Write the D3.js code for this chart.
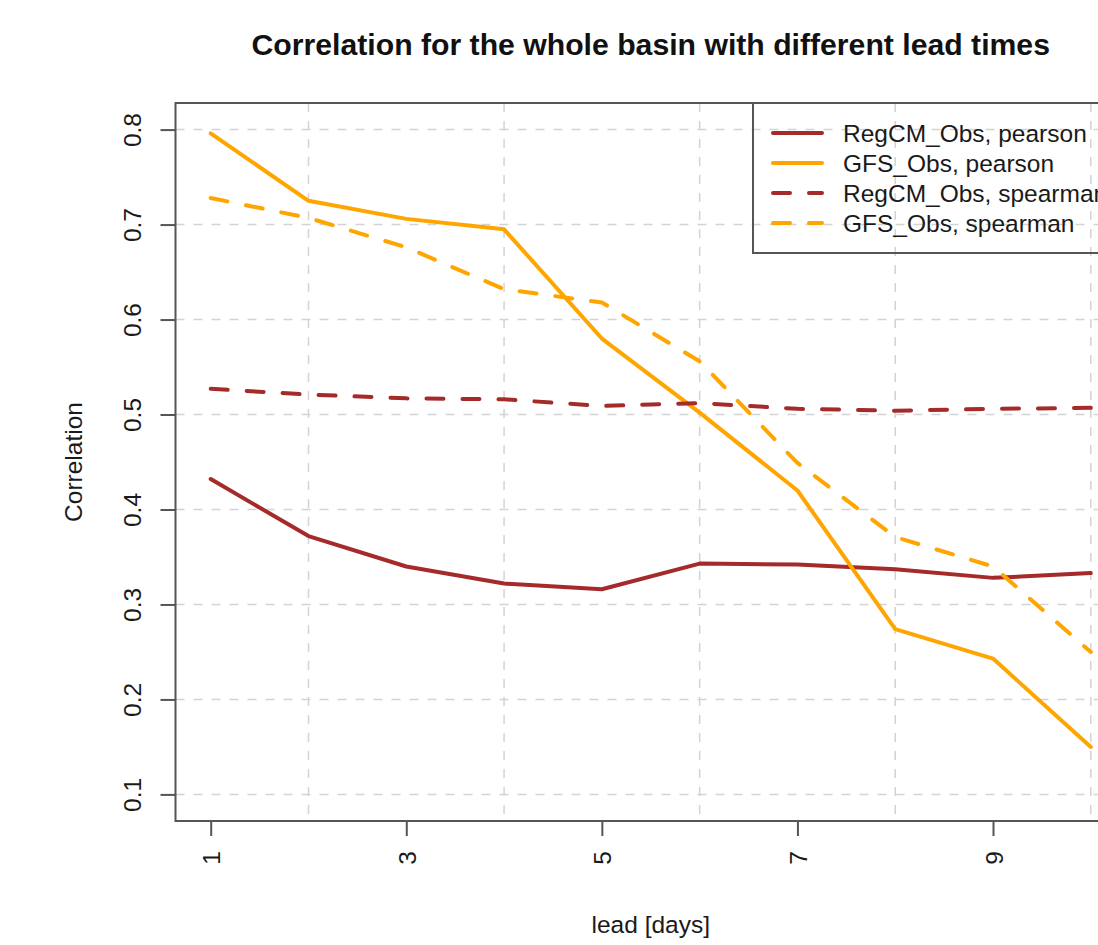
<!DOCTYPE html>
<html>
<head>
<meta charset="utf-8">
<script src="https://d3js.org/d3.v7.min.js"></script>
<style>
  body { margin: 0; background: #fff; }
  svg { display: block; overflow: hidden; font-family: "Liberation Sans", Arial, sans-serif; }
  .tick text { font-size: 24.5px; fill: #1a1a1a; }
  .tick line { stroke: #555; stroke-width: 2px; }
  .grid line { stroke: #d3d3d3; stroke-width: 1.5px; stroke-dasharray: 9,9; }
</style>
</head>
<body>
<svg id="chart" width="1098" height="945"></svg>
<script>
// lead time in days
const days = [1, 2, 3, 4, 5, 6, 7, 8, 9, 10];
const regcmPearson  = [0.432, 0.372, 0.340, 0.322, 0.316, 0.343, 0.342, 0.337, 0.328, 0.333];
const gfsPearson    = [0.796, 0.725, 0.706, 0.695, 0.580, 0.502, 0.420, 0.274, 0.243, 0.150];
const regcmSpearman = [0.527, 0.521, 0.517, 0.516, 0.509, 0.512, 0.506, 0.504, 0.506, 0.507];
const gfsSpearman   = [0.728, 0.707, 0.676, 0.632, 0.618, 0.556, 0.449, 0.371, 0.340, 0.250];

const xTicks = [1, 3, 5, 7, 9];
const xGrid = [2, 4, 6, 8, 10];
const yTicks = [0.1, 0.2, 0.3, 0.4, 0.5, 0.6, 0.7, 0.8];

const seriesNames = ["RegCM_Obs, pearson", "GFS_Obs, pearson", "RegCM_Obs, spearman", "GFS_Obs, spearman"];
const seriesValues = [regcmPearson, gfsPearson, regcmSpearman, gfsSpearman];
const seriesColors = ["#a52a2a", "#ffa500", "#a52a2a", "#ffa500"];
const seriesDashed = [false, false, true, true];

const plotLeft = 175.5, plotRight = 1126, plotTop = 103, plotBottom = 821;

const x = d3.scaleLinear().domain([0.64, 10.36]).range([plotLeft, plotRight]);
const y = d3.scaleLinear().domain([0.072, 0.828]).range([plotBottom, plotTop]);

const svg = d3.select("#chart");

// grid
const grid = svg.append("g").attr("class", "grid");
grid.selectAll(".gv").data(xGrid).enter().append("line")
    .attr("x1", d => x(d)).attr("x2", d => x(d))
    .attr("y1", plotTop).attr("y2", plotBottom);
grid.selectAll(".gh").data(yTicks).enter().append("line")
    .attr("x1", plotLeft).attr("x2", plotRight)
    .attr("y1", d => y(d)).attr("y2", d => y(d));

// lines
const line = d3.line()
    .x((d, i) => x(days[i]))
    .y(d => y(d));

seriesValues.forEach(function(vals, k) {
    svg.append("path")
        .datum(vals)
        .attr("d", line)
        .attr("fill", "none")
        .attr("stroke", seriesColors[k])
        .attr("stroke-width", 4)
        .attr("stroke-linejoin", "round")
        .attr("stroke-linecap", "round")
        .attr("stroke-dasharray", seriesDashed[k] ? "17,19" : null);
});

// axes
const xAxis = d3.axisBottom(x).tickValues(xTicks).tickSize(15).tickFormat(d3.format("d"));
const yAxis = d3.axisLeft(y).tickValues(yTicks).tickSize(15).tickFormat(d3.format(".1f"));

const gx = svg.append("g").attr("transform", `translate(0,${plotBottom})`).call(xAxis);
gx.select(".domain").remove();
gx.selectAll(".tick text")
    .attr("transform", "rotate(-90)")
    .attr("x", -30).attr("y", 9).attr("dy", null)
    .attr("text-anchor", "end");

const gy = svg.append("g").attr("transform", `translate(${plotLeft},0)`).call(yAxis);
gy.select(".domain").remove();
gy.selectAll(".tick text")
    .attr("transform", "rotate(-90)")
    .attr("x", 0).attr("y", -34.5).attr("dy", null)
    .attr("text-anchor", "middle");

// plot box
svg.append("rect")
    .attr("x", plotLeft).attr("y", plotTop)
    .attr("width", plotRight - plotLeft).attr("height", plotBottom - plotTop)
    .attr("fill", "none").attr("stroke", "#555").attr("stroke-width", 2);

// titles
svg.append("text")
    .attr("x", (plotLeft + plotRight) / 2).attr("y", 55)
    .attr("text-anchor", "middle")
    .style("font-size", "30.2px").style("font-weight", "bold").style("fill", "#111")
    .text("Correlation for the whole basin with different lead times");

svg.append("text")
    .attr("x", (plotLeft + plotRight) / 2).attr("y", 933)
    .attr("text-anchor", "middle")
    .style("font-size", "24.5px").style("fill", "#1a1a1a")
    .text("lead [days]");

svg.append("text")
    .attr("transform", `translate(82,${(plotTop + plotBottom) / 2}) rotate(-90)`)
    .attr("text-anchor", "middle")
    .style("font-size", "24.5px").style("fill", "#1a1a1a")
    .text("Correlation");

// legend (right part runs past the page edge, as in the original)
const legend = svg.append("g");
legend.append("rect")
    .attr("x", 753).attr("y", plotTop)
    .attr("width", plotRight - 753).attr("height", 150)
    .attr("fill", "none").attr("stroke", "#555").attr("stroke-width", 2);

seriesNames.forEach(function(name, k) {
    const ly = 133 + k * 30;
    legend.append("line")
        .attr("x1", 773).attr("x2", 822)
        .attr("y1", ly).attr("y2", ly)
        .attr("stroke", seriesColors[k])
        .attr("stroke-width", 4)
        .attr("stroke-linecap", "round")
        .attr("stroke-dasharray", seriesDashed[k] ? "17,19" : null);
    legend.append("text")
        .attr("x", 843).attr("y", ly + 8.5)
        .style("font-size", "24.5px").style("fill", "#1a1a1a")
        .text(name);
});
</script>
</body>
</html>
